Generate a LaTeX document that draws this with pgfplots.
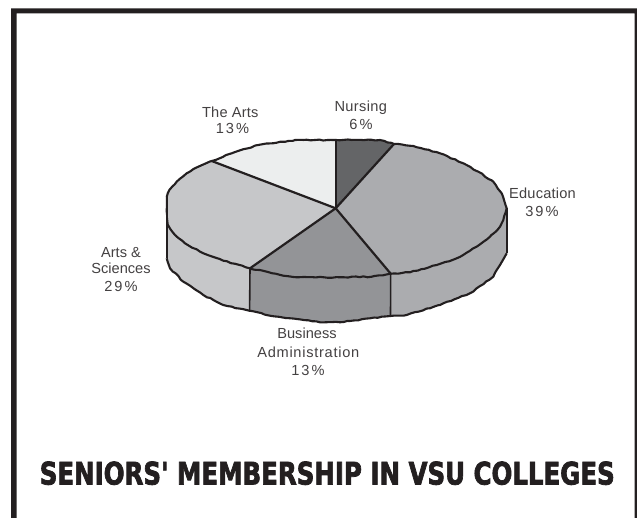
\documentclass[border=0pt]{standalone}
\usepackage{pgfplots}
\pgfplotsset{compat=1.18}
\usepackage{fontspec}
\setmainfont{Liberation Sans}
\newfontfamily\titlefont[FakeBold=2.6]{DejaVu Sans Bold}
\usetikzlibrary{decorations.pathmorphing}
\definecolor{ink}{HTML}{231F20}
\definecolor{nursing}{HTML}{646567}
\definecolor{education}{HTML}{ABACAF}
\definecolor{business}{HTML}{939497}
\definecolor{sciences}{HTML}{C6C7C9}
\definecolor{thearts}{HTML}{ECEEEE}
\pgfmathsetseed{7}
\tikzset{
  rim/.style={ink, line width=2.1pt, line join=round, decorate,
    decoration={random steps, segment length=4pt, amplitude=0.5pt}},
  spoke/.style={ink, line width=2.2pt, line cap=round},
  edge/.style={ink, line width=1.6pt},
  lab/.style={anchor=base, font=\fontsize{14.6}{16}\selectfont, text=ink!85!white},
}
\begin{document}
\begin{tikzpicture}
\begin{axis}[
  scale only axis, width=637pt, height=518pt,
  xmin=0, xmax=637, ymin=0, ymax=518, y dir=reverse,
  hide axis, clip=false, no markers,
]
% page background
\addplot[fill=white, draw=none] coordinates {(0,0)(637,0)(637,518)(0,518)} --cycle;

% frame, open along the bottom
\addplot[fill=ink, draw=none] coordinates {(11,518)(11,8.3)(637,8.3)(637,518)(634.6,518)(634.6,13.3)(16.7,13.3)(16.7,518)} --cycle;

% side walls
\addplot[fill=education, draw=none] coordinates {(506.7,208.3)(503.3,220)(500,226.7)(490,236.7)(476.7,246.7)(456.7,258.3)(436.7,265)(410,272.3)(390.7,273.7)(390.5,316)(403.3,315.7)(440,305)(470,293.3)(493.3,276.7)(500,265)(506.7,253.3)} --cycle;
\addplot[fill=business, draw=none] coordinates {(390.7,273.7)(371.7,276.7)(340,277.3)(296.7,277.3)(283.3,275.7)(250,268.3)(249.3,310.7)(270,315.7)(296.7,319)(320,322.3)(340,322.3)(350,321)(370,318.3)(390.5,316)} --cycle;
\addplot[fill=sciences, draw=none] coordinates {(250,268.3)(223.3,260.7)(203.3,253.3)(185,243.3)(175,235)(168,225)(166.5,212)(166.7,197)(166.7,258.3)(170,268.3)(183.3,281.7)(203.3,295)(223.3,305)(249.3,310.7)} --cycle;

% top face slices
\addplot[fill=nursing, draw=none] coordinates {(335.7,208.3)(335.7,140)(380,140)(394,144)} --cycle;
\addplot[fill=education, draw=none] coordinates {(335.7,208.3)(394,144)(413.3,146)(440,153.3)(463.3,163.3)(478.3,171.7)(493.3,181.7)(501.7,193.3)(506.7,208.3)(503.3,220)(500,226.7)(490,236.7)(476.7,246.7)(456.7,258.3)(436.7,265)(410,272.3)(390.7,273.7)} --cycle;
\addplot[fill=business, draw=none] coordinates {(335.7,208.3)(390.7,273.7)(371.7,276.7)(340,277.3)(296.7,277.3)(283.3,275.7)(250,268.3)} --cycle;
\addplot[fill=sciences, draw=none] coordinates {(335.7,208.3)(250,268.3)(223.3,260.7)(203.3,253.3)(185,243.3)(175,235)(168,225)(166.5,212)(166.7,197)(169.3,190)(176.7,181.7)(186.7,173.3)(198.3,166.7)(211.7,161)} --cycle;
\addplot[fill=thearts, draw=none] coordinates {(335.7,208.3)(211.7,161)(231.7,153.3)(258.3,145)(276.7,142.7)(295,140)(335.7,140)} --cycle;

% outer rims
\addplot[rim] coordinates {(506.7,208.3)(503.3,220)(500,226.7)(490,236.7)(476.7,246.7)(456.7,258.3)(436.7,265)(410,272.3)(390.7,273.7)(371.7,276.7)(340,277.3)(296.7,277.3)(283.3,275.7)(250,268.3)(223.3,260.7)(203.3,253.3)(185,243.3)(175,235)(168,225)};
\addplot[rim] coordinates {(166.7,197)(169.3,190)(176.7,181.7)(186.7,173.3)(198.3,166.7)(211.7,161)(231.7,153.3)(258.3,145)(276.7,142.7)(295,140)(335.7,140)(380,140)(394,144)(413.3,146)(440,153.3)(463.3,163.3)(478.3,171.7)(493.3,181.7)(501.7,193.3)(506.7,208.3)};
\addplot[rim] coordinates {(166.7,258.3)(170,268.3)(183.3,281.7)(203.3,295)(223.3,305)(249.3,310.7)(270,315.7)(296.7,319)(320,322.3)(340,322.3)(350,321)(370,318.3)(390.5,316)(403.3,315.7)(440,305)(470,293.3)(493.3,276.7)(500,265)(506.7,253.3)};

% wall edges
\addplot[edge] coordinates {(166.7,197)(166.5,212)(168,225)};
\addplot[edge] coordinates {(166.7,197)(166.7,258.3)};
\addplot[edge] coordinates {(506.7,208.3)(506.7,253.3)};
\addplot[edge] coordinates {(250,268.3)(249.6,310.7)};
\addplot[edge] coordinates {(390.7,273.7)(390.5,316)};

% slice boundaries
\addplot[spoke] coordinates {(335.7,208.3)(335.7,140)};
\addplot[spoke] coordinates {(335.7,208.3)(394,144)};
\addplot[spoke] coordinates {(335.7,208.3)(390.7,273.7)};
\addplot[spoke] coordinates {(335.7,208.3)(250,268.3)};
\addplot[spoke] coordinates {(335.7,208.3)(211.7,161)};

% slice labels
\node[lab] at (axis cs:230.3,117.3) {\addfontfeature{LetterSpace=1.5}The Arts};
\node[lab] at (axis cs:232.5,134) {1\kern2pt3\kern2pt\%};
\node[lab] at (axis cs:360.8,111.7) {\addfontfeature{LetterSpace=2.5}Nursing};
\node[lab] at (axis cs:361,129.3) {6\kern2pt\%};
\node[lab] at (axis cs:542.5,199) {\addfontfeature{LetterSpace=1.5}Education};
\node[lab] at (axis cs:542,217) {3\kern2pt9\kern2pt\%};
\node[lab] at (axis cs:121,257.5) {Arts \&};
\node[lab] at (axis cs:121,274) {Sciences};
\node[lab] at (axis cs:121,292) {2\kern2pt9\kern2pt\%};
\node[lab] at (axis cs:307,338.3) {Business};
\node[lab] at (axis cs:308.3,358) {\addfontfeature{LetterSpace=5}Administration};
\node[lab] at (axis cs:308,375) {1\kern2pt3\kern2pt\%};

% title
\node[anchor=base, inner sep=0pt, text=ink] at (axis cs:327.3,484.5) {\resizebox{575pt}{23pt}{\titlefont SENIORS' MEMBERSHIP IN VSU COLLEGES}};
\end{axis}
\end{tikzpicture}
\end{document}
